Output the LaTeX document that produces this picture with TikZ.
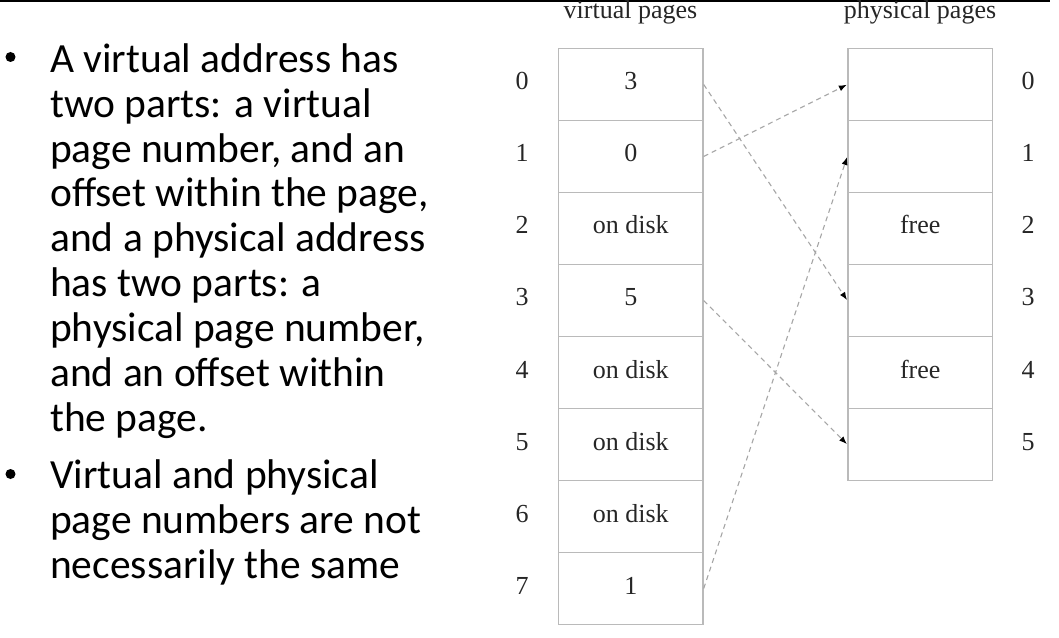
\documentclass[tikz,border=0pt]{standalone}
\usepackage{fontspec}
\setmainfont{Carlito}
\newfontfamily\tms{Liberation Serif}
\usetikzlibrary{arrows.meta}
\tikzset{
  cell/.style={draw=black!27, line width=1.4bp, minimum width=144.5bp, minimum height=72bp,
    inner sep=0pt, font=\tms\fontsize{26bp}{28bp}\selectfont, text height=18bp, text depth=7bp, text=black!85},
  idx/.style={inner sep=0pt, font=\tms\fontsize{26bp}{28bp}\selectfont, text height=18bp, text depth=7bp, text=black!85},
  hdr/.style={inner sep=0pt, anchor=base, font=\tms\fontsize{26bp}{28bp}\selectfont, text=black!85},
  txt/.style={inner sep=0pt, anchor=base west, font=\fontsize{41.5bp}{45bp}\selectfont, text=black},
  bul/.style={circle, fill=black, inner sep=0pt, minimum size=10bp},
  map/.style={draw=black!35, line width=1.1bp, dash pattern=on 5bp off 4bp,
    arrows={-Latex[black, length=8bp, width=6bp]}, shorten >=0.5bp}
}
\begin{document}
\begin{tikzpicture}[x=1bp, y=-1bp]
\useasboundingbox (0,0) rectangle (1059,638);
\draw[line width=1.6bp] (0,0.8) -- (1050,0.8);

% left text
\node[bul] (b1) at (10.5,57) {};
\node[txt] (l1) at (50,72.5) {A virtual address has};
\node[txt] (l2) at (50,117.3) {two parts: a virtual};
\node[txt] (l3) at (50,162.1) {page number, and an};
\node[txt] (l4) at (50,206.9) {offset within the page,};
\node[txt] (l5) at (50,251.7) {and a physical address};
\node[txt] (l6) at (50,296.5) {has two parts: a};
\node[txt] (l7) at (50,341.3) {physical page number,};
\node[txt] (l8) at (50,386.5) {and an offset within};
\node[txt] (l9) at (50,431.5) {the page.};
\node[bul] (b2) at (10.5,474) {};
\node[txt] (m1) at (50,488.3) {Virtual and physical};
\node[txt] (m2) at (50,533.3) {page numbers are not};
\node[txt] (m3) at (50,578.3) {necessarily the same};

% headers
\node[hdr] (hv) at (630.5,18.5) {virtual pages};
\node[hdr] (hp) at (920,18.5) {physical pages};

% virtual pages
\foreach \i/\t in {0/3,1/0,2/on disk,3/5,4/on disk,5/on disk,6/on disk,7/1}{
  \node[cell] (v\i) at (630.75, 84.5+72*\i) {\t};
  \node[idx] (vi\i) at (522, 84.5+72*\i) {\i};
}
% physical pages
\foreach \i/\t in {0/,1/,2/free,3/,4/free,5/}{
  \node[cell] (p\i) at (920.25, 84.5+72*\i) {\t};
  \node[idx] (pi\i) at (1028, 84.5+72*\i) {\i};
}

% mappings
\draw[map] (v0.east) -- (p3.west);
\draw[map] (v1.east) -- (p0.west);
\draw[map] (v3.east) -- (p5.west);
\draw[map] (v7.east) -- (p1.west);
\end{tikzpicture}
\end{document}
